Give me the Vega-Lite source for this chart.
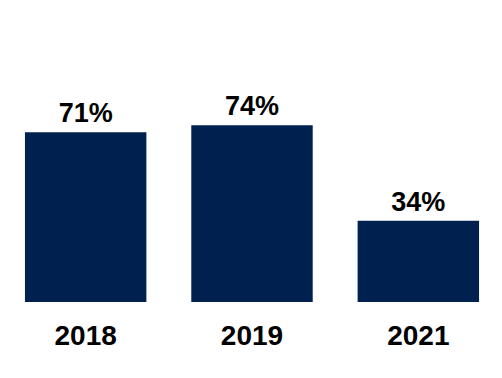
{
  "$schema": "https://vega.github.io/schema/vega-lite/v6.json",
  "autosize": "none",
  "width": 499,
  "height": 239,
  "padding": {"top": 63, "left": 2.5, "right": 0, "bottom": 76},
  "background": "white",
  "config": {"view": {"stroke": null}},
  "data": {"values": [
    {"year": "2018", "value": 71, "label": "71%"},
    {"year": "2019", "value": 74, "label": "74%"},
    {"year": "2021", "value": 34, "label": "34%"}
  ]},
  "encoding": {
    "x": {"field": "year", "type": "nominal", "sort": null,
      "scale": {"paddingInner": 0.27},
      "axis": {"title": null, "domain": false, "ticks": false, "labelAngle": 0,
        "labelFont": "Liberation Sans", "labelFontWeight": "bold", "labelFontSize": 28,
        "labelColor": "#000000", "labelBaseline": "alphabetic", "labelPadding": 42}},
    "y": {"field": "value", "type": "quantitative", "scale": {"domain": [0, 100]}, "axis": null}
  },
  "layer": [
    {"mark": {"type": "bar", "color": "#002050"}},
    {"mark": {"type": "text", "baseline": "alphabetic", "dy": -10, "font": "Liberation Sans", "fontWeight": "bold", "fontSize": 27, "color": "#000000"},
     "encoding": {"text": {"field": "label"}}}
  ]
}
